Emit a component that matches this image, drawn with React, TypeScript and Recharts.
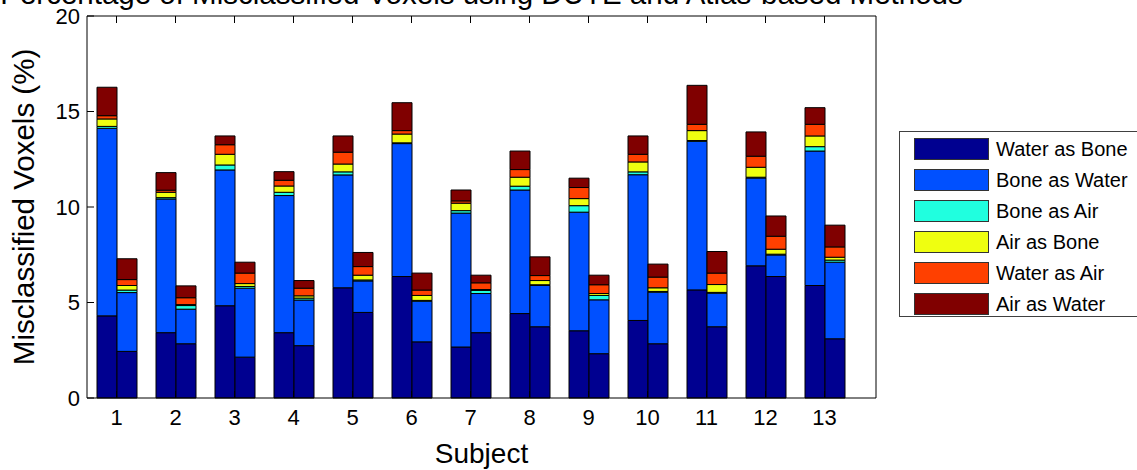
import React from 'react';
import { BarChart, Bar, XAxis, YAxis } from 'recharts';

const subjects = ['1', '2', '3', '4', '5', '6', '7', '8', '9', '10', '11', '12', '13'];
const seriesNames = ['Water as Bone', 'Bone as Water', 'Bone as Air', 'Air as Bone', 'Water as Air', 'Air as Water'];
const seriesColors = ['#000090', '#0050ff', '#20ffdf', '#efff10', '#ff4000', '#800000'];
const yTicks = [0, 5, 10, 15, 20];

// DUTE (left bar of each pair)
const duteWaterAsBone = [4.3, 3.42, 4.83, 3.42, 5.77, 6.36, 2.67, 4.42, 3.52, 4.06, 5.66, 6.92, 5.89];
const duteBoneAsWater = [9.82, 7.0, 7.11, 7.18, 5.91, 6.96, 7.01, 6.47, 6.21, 7.63, 7.78, 4.6, 7.04];
const duteBoneAsAir = [0.1, 0.07, 0.26, 0.17, 0.16, 0.04, 0.13, 0.2, 0.34, 0.15, 0.04, 0.04, 0.23];
const duteAirAsBone = [0.39, 0.28, 0.56, 0.33, 0.41, 0.46, 0.39, 0.47, 0.37, 0.52, 0.52, 0.52, 0.56];
const duteWaterAsAir = [0.17, 0.11, 0.5, 0.3, 0.62, 0.18, 0.12, 0.4, 0.58, 0.4, 0.33, 0.58, 0.61];
const duteAirAsWater = [1.49, 0.92, 0.46, 0.45, 0.85, 1.46, 0.57, 0.97, 0.49, 0.96, 2.04, 1.27, 0.87];

// Atlas-based (right bar of each pair)
const atlasWaterAsBone = [2.44, 2.84, 2.14, 2.74, 4.48, 2.94, 3.42, 3.73, 2.32, 2.84, 3.73, 6.36, 3.1];
const atlasBoneAsWater = [3.08, 1.81, 3.61, 2.39, 1.65, 2.13, 2.05, 2.16, 2.82, 2.7, 1.76, 1.13, 4.01];
const atlasBoneAsAir = [0.13, 0.19, 0.09, 0.1, 0.05, 0.04, 0.16, 0.04, 0.23, 0.04, 0.04, 0.04, 0.11];
const atlasAirAsBone = [0.24, 0.05, 0.15, 0.12, 0.25, 0.26, 0.05, 0.22, 0.1, 0.19, 0.41, 0.26, 0.15];
const atlasWaterAsAir = [0.31, 0.36, 0.55, 0.4, 0.45, 0.28, 0.35, 0.26, 0.46, 0.56, 0.6, 0.68, 0.54];
const atlasAirAsWater = [1.09, 0.62, 0.57, 0.4, 0.74, 0.89, 0.4, 0.98, 0.5, 0.68, 1.13, 1.06, 1.14];

const duteSeries = [duteWaterAsBone, duteBoneAsWater, duteBoneAsAir, duteAirAsBone, duteWaterAsAir, duteAirAsWater];
const atlasSeries = [atlasWaterAsBone, atlasBoneAsWater, atlasBoneAsAir, atlasAirAsBone, atlasWaterAsAir, atlasAirAsWater];

const data = subjects.map((subject, i) => {
  const row: Record<string, string | number> = { subject };
  duteSeries.forEach((s, k) => (row[`d${k}`] = s[i]));
  atlasSeries.forEach((s, k) => (row[`a${k}`] = s[i]));
  return row;
});

const FONT = 'Arial, "Liberation Sans", sans-serif';
const TICK_LEN = 7;

const BottomTick = ({ x, y, payload }: any) => (
  <g>
    <line x1={x} x2={x} y1={y - 11} y2={y - 11 - TICK_LEN} stroke="#000" />
    <text x={x} y={y} dy="0.71em" textAnchor="middle" fontSize={22} fontFamily={FONT} fill="#000">
      {payload.value}
    </text>
  </g>
);

const TopTick = ({ x, y }: any) => <line x1={x} x2={x} y1={y} y2={y + TICK_LEN} stroke="#000" />;

const LeftTick = ({ x, y, payload }: any) => (
  <g>
    <line x1={x + 7} x2={x + 7 + TICK_LEN} y1={y} y2={y} stroke="#000" />
    <text x={x} y={y} dy="0.36em" textAnchor="end" fontSize={22} fontFamily={FONT} fill="#000">
      {payload.value}
    </text>
  </g>
);

const RightTick = ({ x, y }: any) => <line x1={x} x2={x - TICK_LEN} y1={y} y2={y} stroke="#000" />;

const ChartLegend = () => (
  <div
    style={{
      position: 'absolute',
      left: 899,
      top: 131,
      boxSizing: 'border-box',
      width: 250,
      height: 186,
      border: '1px solid #404040',
      background: '#fff',
      paddingTop: 6,
      paddingLeft: 14,
      fontFamily: FONT,
      fontSize: 20,
      color: '#000',
    }}
  >
    {seriesNames.map((name, k) => (
      <div key={name} style={{ display: 'flex', alignItems: 'center', height: 22, marginBottom: 9 }}>
        <div
          style={{
            boxSizing: 'border-box',
            width: 75,
            height: 22,
            background: seriesColors[k],
            border: '1px solid #333',
            marginRight: 7,
          }}
        />
        <span style={{ whiteSpace: 'nowrap' }}>{name}</span>
      </div>
    ))}
  </div>
);

export default function App() {
  return (
    <div style={{ position: 'absolute', left: 0, top: 0, width: 1137, height: 470, background: '#fff', overflow: 'hidden' }}>
      <BarChart
        width={1137}
        height={470}
        data={data}
        margin={{ top: 6, right: 251, bottom: 42, left: 27 }}
        barGap={0}
        barSize={20}
      >
        {duteSeries.map((_, k) => (
          <Bar
            key={`d${k}`}
            dataKey={`d${k}`}
            name={seriesNames[k]}
            stackId="dute"
            fill={seriesColors[k]}
            stroke="#000"
            strokeWidth={1}
            isAnimationActive={false}
          />
        ))}
        {atlasSeries.map((_, k) => (
          <Bar
            key={`a${k}`}
            dataKey={`a${k}`}
            name={seriesNames[k]}
            stackId="atlas"
            fill={seriesColors[k]}
            stroke="#000"
            strokeWidth={1}
            isAnimationActive={false}
          />
        ))}
        <XAxis
          dataKey="subject"
          height={30}
          padding={{ left: 0, right: 22 }}
          interval={0}
          tickSize={0}
          tickMargin={11}
          tick={BottomTick}
          tickLine={false}
          axisLine={{ stroke: '#000' }}
          label={{
            content: ({ viewBox }: any) => (
              <text
                x={viewBox.x + viewBox.width / 2}
                y={viewBox.y + 65}
                textAnchor="middle"
                fontSize={28}
                fontFamily={FONT}
                fill="#000"
              >
                Subject
              </text>
            ),
          }}
        />
        <XAxis
          xAxisId="top"
          orientation="top"
          dataKey="subject"
          height={10}
          padding={{ left: 0, right: 22 }}
          interval={0}
          tickSize={0}
          tickMargin={0}
          tick={TopTick}
          tickLine={false}
          axisLine={{ stroke: '#000' }}
          label={{
            content: ({ viewBox }: any) => (
              <text
                x={viewBox.x + viewBox.width / 2}
                y={viewBox.y - 2}
                textAnchor="middle"
                fontSize={29.5}
                fontFamily={FONT}
                fill="#000"
              >
                Percentage of Misclassified Voxels using DUTE and Atlas-based Methods
              </text>
            ),
          }}
        />
        <YAxis
          type="number"
          domain={[0, 20]}
          ticks={yTicks}
          width={60}
          interval={0}
          tickSize={0}
          tickMargin={7}
          tick={LeftTick}
          tickLine={false}
          axisLine={{ stroke: '#000' }}
          label={{
            content: ({ viewBox }: any) => (
              <text
                transform={`translate(${viewBox.x + 7},${viewBox.y + viewBox.height / 2}) rotate(-90)`}
                textAnchor="middle"
                fontSize={29.5}
                fontFamily={FONT}
                fill="#000"
              >
                Misclassified Voxels (%)
              </text>
            ),
          }}
        />
        <YAxis
          yAxisId="right"
          orientation="right"
          type="number"
          domain={[0, 20]}
          ticks={yTicks}
          width={10}
          interval={0}
          tickSize={0}
          tickMargin={0}
          tick={RightTick}
          tickLine={false}
          axisLine={{ stroke: '#000' }}
        />
      </BarChart>
      <ChartLegend />
    </div>
  );
}
